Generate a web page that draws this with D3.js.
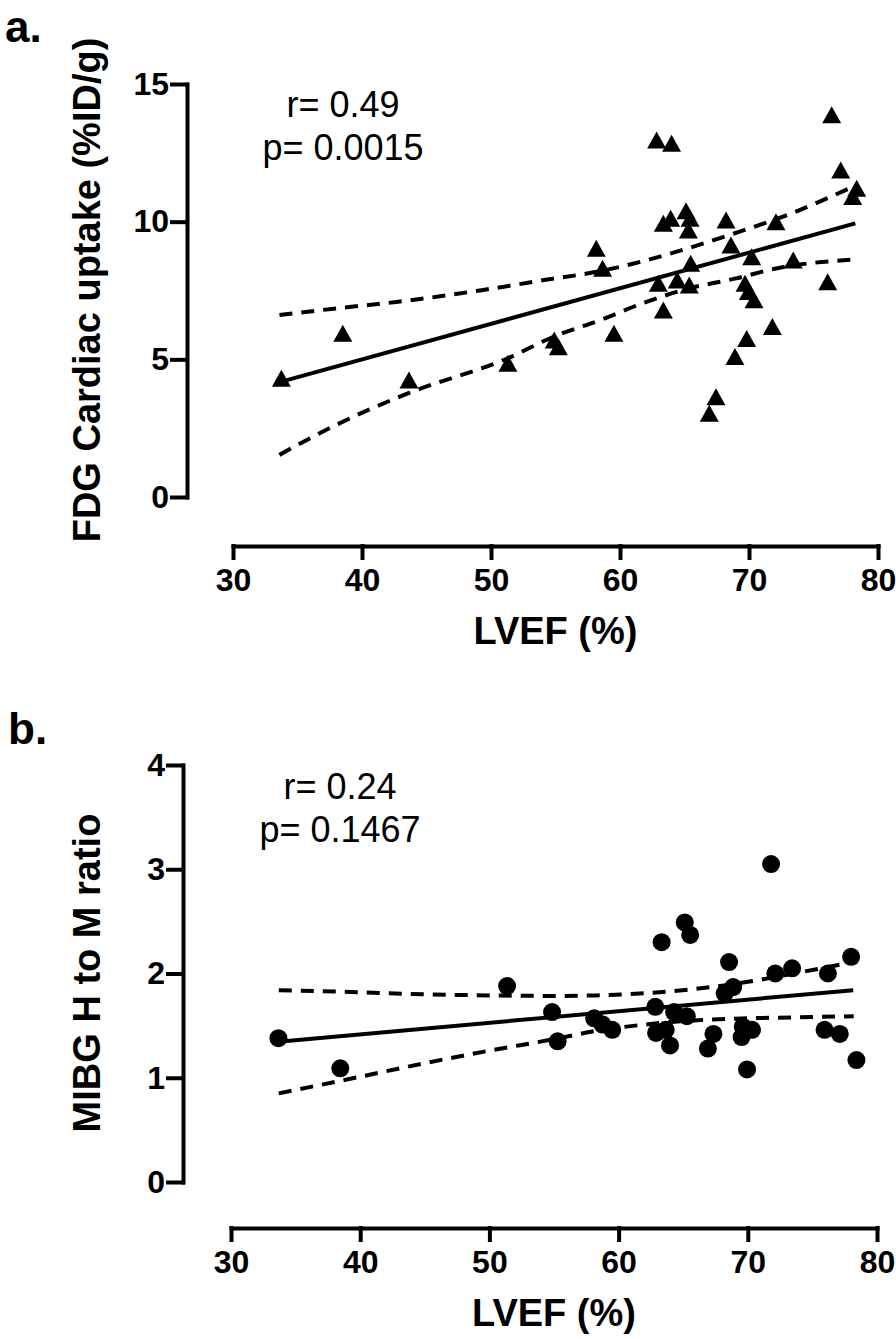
<!DOCTYPE html>
<html>
<head>
<meta charset="utf-8">
<script src="https://cdn.jsdelivr.net/npm/d3@7"></script>
<style>
  html, body { margin: 0; padding: 0; background: #fff; }
  svg { display: block; }
  text { font-family: 'Liberation Sans', Arial, sans-serif; fill: #000; }
</style>
</head>
<body>
<svg id="chart" width="896" height="1339"></svg>
<script>
// ---------- DATA ----------
const xTicks = [30, 40, 50, 60, 70, 80];
const yTicksA = [0, 5, 10, 15];
const yTicksB = [0, 1, 2, 3, 4];

// Panel a: LVEF (%) vs FDG cardiac uptake (%ID/g)
const lvefA = [33.75, 38.51, 43.64, 51.31, 54.90, 55.22, 58.16, 58.65, 59.53,
  62.84, 64.00, 76.41, 77.11, 78.35, 78.04, 63.36, 63.93, 65.12, 65.43, 65.30,
  68.22, 72.09, 68.60, 70.21, 73.43, 65.48, 62.97, 64.44, 65.37, 69.69, 69.95,
  70.39, 76.10, 63.36, 71.81, 69.82, 68.91, 67.44, 66.92];
const fdg = [4.31, 5.95, 4.25, 4.86, 5.70, 5.46, 9.03, 8.31, 5.95,
  12.97, 12.85, 13.88, 11.88, 11.21, 10.91, 9.94, 10.12, 10.40, 10.12, 9.70,
  10.06, 10.00, 9.15, 8.73, 8.61, 8.49, 7.76, 7.88, 7.70, 7.76, 7.46,
  7.16, 7.82, 6.79, 6.19, 5.76, 5.10, 3.64, 3.04];
const fitLineA = [[33.75, 4.19], [78.24, 9.94]];
const bandUpperA = [[33.6, 6.61], [38, 6.85], [42.8, 7.09], [49.4, 7.52], [54, 7.87],
  [58.2, 8.18], [61, 8.47], [64.4, 8.91], [68.9, 9.58], [73, 10.25], [78.2, 11.3]];
const bandLowerA = [[33.6, 1.53], [38, 2.62], [43.6, 3.77], [51.3, 5.04], [55, 5.85],
  [58.5, 6.43], [62, 7.08], [65.4, 7.58], [68.9, 7.93], [72.2, 8.31], [78.2, 8.63]];
const statsA = ["r= 0.49", "p= 0.0015"];

// Panel b: LVEF (%) vs MIBG H to M ratio
const lvefB = [33.67, 38.46, 51.37, 54.85, 55.28, 58.11, 58.76, 59.51, 62.84,
  63.33, 62.90, 63.65, 63.98, 64.30, 65.12, 65.54, 65.28, 67.34, 66.91, 68.55,
  68.21, 68.87, 69.61, 70.33, 69.52, 69.94, 71.80, 72.13, 73.43, 76.20, 75.94,
  77.12, 78.00, 78.41];
const mibg = [1.38, 1.09, 1.88, 1.63, 1.35, 1.57, 1.51, 1.46, 1.68,
  2.30, 1.43, 1.46, 1.31, 1.63, 2.49, 2.37, 1.59, 1.42, 1.28, 2.11,
  1.81, 1.87, 1.49, 1.46, 1.39, 1.08, 3.05, 2.00, 2.05, 2.00, 1.46,
  1.42, 2.16, 1.17];
const fitLineB = [[33.67, 1.346], [78.16, 1.84]];
const bandUpperB = [[33.7, 1.84], [40, 1.82], [45, 1.80], [50, 1.79], [55, 1.785],
  [58.3, 1.79], [62, 1.81], [65.8, 1.85], [70, 1.92], [74, 2.01], [78.2, 2.11]];
const bandLowerB = [[33.7, 0.85], [40, 1.01], [45, 1.14], [50, 1.26], [55, 1.37],
  [58.3, 1.45], [62, 1.51], [65.8, 1.55], [70, 1.57], [74, 1.58], [78.2, 1.59]];
const statsB = ["r= 0.24", "p= 0.1467"];

// ---------- DRAWING ----------
const svg = d3.select("#chart");
svg.append("rect").attr("width", 896).attr("height", 1339).attr("fill", "#fff");

function panel(cfg) {
  const g = svg.append("g");
  const x = d3.scaleLinear().domain([30, 80]).range(cfg.xRange);
  const y = d3.scaleLinear().domain(cfg.yDomain).range(cfg.yRange);
  const fmt = d3.format("d");

  // axes
  const ax = g.append("g").attr("transform", `translate(0,${cfg.xAxisY})`)
    .call(d3.axisBottom(x).tickValues(xTicks).tickFormat(fmt).tickSize(12).tickPadding(10).tickSizeOuter(0));
  const ay = g.append("g").attr("transform", `translate(${cfg.yAxisX},0)`)
    .call(d3.axisLeft(y).tickValues(cfg.yTicks).tickFormat(fmt).tickSize(15).tickPadding(3).tickSizeOuter(0));
  [ax, ay].forEach(a => {
    a.select(".domain").attr("stroke", "#000").attr("stroke-width", 4).attr("stroke-linecap", "square");
    a.selectAll(".tick line").attr("stroke", "#000").attr("stroke-width", 4).attr("stroke-linecap", "square");
    a.selectAll(".tick text").attr("font-size", 32).attr("font-weight", "bold")
      .attr("font-family", "'Liberation Sans', Arial, sans-serif").attr("fill", "#000");
  });

  // axis titles
  g.append("text").attr("x", (cfg.xRange[0] + cfg.xRange[1]) / 2).attr("y", cfg.xAxisY + 98)
    .attr("text-anchor", "middle").attr("font-size", 38).attr("font-weight", "bold").text("LVEF (%)");
  g.append("text").attr("transform", `translate(${cfg.yTitleX},${cfg.yTitleY}) rotate(-90)`)
    .attr("text-anchor", "middle").attr("font-size", 38).attr("font-weight", "bold").text(cfg.yTitle);

  // panel letter
  g.append("text").attr("x", cfg.letterX).attr("y", cfg.letterY)
    .attr("font-size", 44).attr("font-weight", "bold").text(cfg.letter);

  // stats
  g.selectAll("text.stat").data(cfg.stats).join("text").attr("class", "stat")
    .attr("x", cfg.statX).attr("y", (d, i) => cfg.statY + i * 43)
    .attr("text-anchor", "middle").attr("font-size", 36).text(d => d);

  // regression and confidence bands
  const line = d3.line().x(d => x(d[0])).y(d => y(d[1]));
  const curve = d3.line().x(d => x(d[0])).y(d => y(d[1])).curve(d3.curveMonotoneX);
  [cfg.upper, cfg.lower].forEach(b => {
    g.append("path").attr("d", curve(b)).attr("fill", "none").attr("stroke", "#000")
      .attr("stroke-width", 4).attr("stroke-dasharray", "13,9");
  });
  g.append("path").attr("d", line(cfg.fit)).attr("fill", "none").attr("stroke", "#000")
    .attr("stroke-width", 4);

  // points
  const pts = cfg.xs.map((v, i) => [v, cfg.ys[i]]);
  if (cfg.marker === "triangle") {
    g.selectAll("path.pt").data(pts).join("path").attr("class", "pt")
      .attr("d", "M0,-8.5L9.5,8.5L-9.5,8.5Z")
      .attr("transform", d => `translate(${x(d[0])},${y(d[1])})`)
      .attr("fill", "#000");
  } else {
    g.selectAll("circle.pt").data(pts).join("circle").attr("class", "pt")
      .attr("cx", d => x(d[0])).attr("cy", d => y(d[1])).attr("r", 9)
      .attr("fill", "#000");
  }
}

panel({
  xRange: [233, 878], yDomain: [0, 15], yRange: [497, 84], yTicks: yTicksA,
  xAxisY: 546, yAxisX: 187, yTitle: "FDG Cardiac uptake (%ID/g)", yTitleX: 100, yTitleY: 290,
  letter: "a.", letterX: 5, letterY: 42, stats: statsA, statX: 343, statY: 117,
  fit: fitLineA, upper: bandUpperA, lower: bandLowerA, xs: lvefA, ys: fdg, marker: "triangle"
});
panel({
  xRange: [231, 877], yDomain: [0, 4], yRange: [1182, 765], yTicks: yTicksB,
  xAxisY: 1228, yAxisX: 183, yTitle: "MIBG H to M ratio", yTitleX: 100, yTitleY: 973,
  letter: "b.", letterX: 8, letterY: 744, stats: statsB, statX: 340, statY: 799,
  fit: fitLineB, upper: bandUpperB, lower: bandLowerB, xs: lvefB, ys: mibg, marker: "circle"
});
</script>
</body>
</html>
